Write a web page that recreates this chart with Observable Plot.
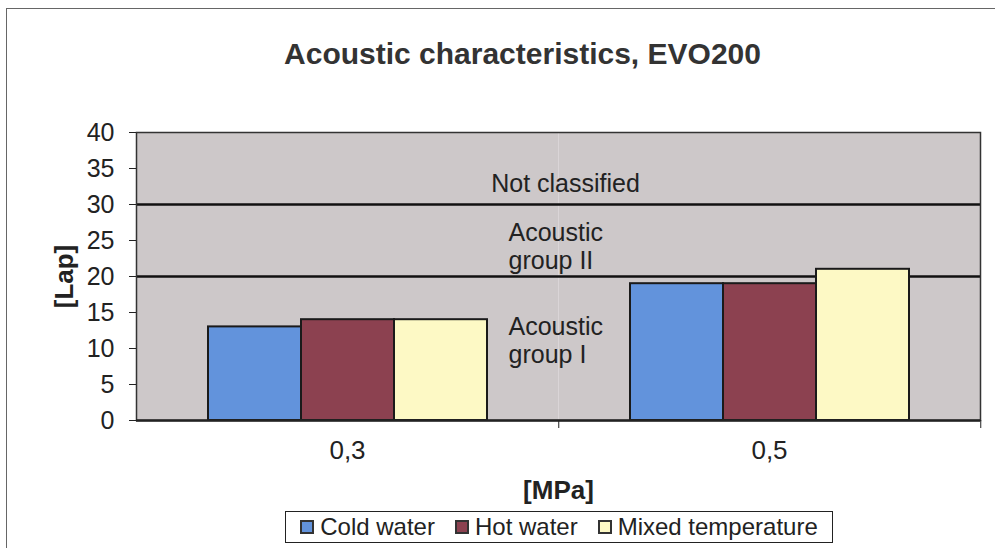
<!DOCTYPE html>
<html>
<head>
<meta charset="utf-8">
<script src="https://cdn.jsdelivr.net/npm/d3@7"></script>
<script src="https://cdn.jsdelivr.net/npm/@observablehq/plot@0.6"></script>
<style>
  html, body { margin: 0; padding: 0; background: #fff; }
  body { width: 995px; height: 550px; position: relative; overflow: hidden;
         font-family: "Liberation Sans", Arial, sans-serif; color: #222; }
  .edge-left { position: absolute; left: 6px; top: 8px; width: 1px; height: 540px; background: #666; }
  .edge-top { position: absolute; left: 6px; top: 8px; width: 989px; height: 1px; background: #666; }
  .title { padding-top: 39px; height: 30px; line-height: 30px; padding-bottom: 31px;
           text-align: center; font-size: 30px; font-weight: bold; color: #333; margin-left: 50px; }
  #chart svg { display: block; }
  #chart [aria-label$="axis label"] text, #chart [aria-label$="axis label"] { font-weight: bold; font-size: 26px; }
  .legend { margin-left: 285px; margin-top: 6px; width: 546px; height: 30px; border: 1px solid #222;
            display: flex; align-items: center; justify-content: center; gap: 20px; font-size: 24px; color: #222; }
  .legend .item { display: flex; align-items: center; gap: 6px; white-space: nowrap; }
  .legend i { display: inline-block; width: 10px; height: 10px; border: 2px solid #333; }
</style>
</head>
<body>
<div class="edge-left"></div>
<div class="edge-top"></div>
<div class="title">Acoustic characteristics, EVO200</div>
<div id="chart"></div>
<div class="legend" id="legend"></div>
<script>
// ---- data ----
const categories = ["0,3", "0,5"];
const series = ["Cold water", "Hot water", "Mixed temperature"];
const coldWater = [13, 19];
const hotWater = [14, 19];
const mixedTemperature = [14, 21];
const seriesColors = ["#6293dc", "#8c4150", "#fdf9c5"];
const yTicks = [0, 5, 10, 15, 20, 25, 30, 35, 40];
const thresholds = [20, 30];
const zoneTitle = ["Not classified"];
const zoneTitleY = [32.9];
const zoneLabels = ["Acoustic\ngroup II", "Acoustic\ngroup I"];
const zoneLabelY = [24.2, 11.2];

// ---- tables built from arrays ----
const values = [coldWater, hotWater, mixedTemperature];
const rows = [];
categories.forEach((c, i) => series.forEach((s, j) => rows.push({pressure: c, series: s, value: values[j][i]})));
const titleRows = zoneTitle.map((t, i) => ({label: t, y: zoneTitleY[i]}));
const labelRows = zoneLabels.map((t, i) => ({label: t, y: zoneLabelY[i]}));

const W = 995, ML = 135, MR = 15;
const facetHalf = (W - ML - MR) / categories.length / 2;
const font = '"Liberation Sans", Arial, sans-serif';

const chart = Plot.plot({
  width: W, height: 405,
  marginLeft: ML, marginRight: MR, marginTop: 32, marginBottom: 85,
  style: {fontFamily: font, fontSize: "24px", color: "#222", background: "transparent", overflow: "visible"},
  fx: {domain: categories, padding: 0, label: "[MPa]"},
  x: {domain: series, paddingInner: 0, paddingOuter: 0.75, axis: null},
  y: {domain: [0, 40], label: "[Lap]"},
  color: {domain: series, range: seriesColors},
  marks: [
    Plot.frame({fill: "#cdc8c9"}),
    Plot.ruleY(thresholds, {stroke: "#111", strokeWidth: 2.5}),
    Plot.barY(rows, {fx: "pressure", x: "series", y: "value", fill: "series", stroke: "#1a1a1a", strokeWidth: 2}),
    Plot.text(titleRows, {fx: () => categories[0], y: "y", text: "label", frameAnchor: "right",
      textAnchor: "middle", dx: 7, fontSize: 25, fill: "#222"}),
    Plot.text(labelRows, {fx: () => categories[0], y: "y", text: "label", frameAnchor: "right",
      textAnchor: "start", dx: -50, fontSize: 25, lineHeight: 1.12, fill: "#222"}),
    Plot.frame({stroke: "#333", strokeWidth: 1.5, facet: "super"}),
    Plot.ruleY([0], {stroke: "#222", strokeWidth: 2.5}),
    Plot.axisY({ticks: yTicks, tickSize: 7, tickPadding: 15, fontSize: 25, label: "[Lap]",
      labelAnchor: "center", labelOffset: 82, labelArrow: "none"}),
    Plot.axisFx({anchor: "bottom", tickSize: 0, tickPadding: 20, fontSize: 26, label: "[MPa]",
      labelAnchor: "center", labelOffset: 78}),
    Plot.axisFx({anchor: "bottom", tickSize: 8, tickFormat: () => "", dx: facetHalf, label: null})
  ]
});
document.getElementById("chart").appendChild(chart);

// ---- legend ----
const legend = document.getElementById("legend");
series.forEach((s, i) => {
  const item = document.createElement("span");
  item.className = "item";
  const sw = document.createElement("i");
  sw.style.background = seriesColors[i];
  item.appendChild(sw);
  item.appendChild(document.createTextNode(s));
  legend.appendChild(item);
});
</script>
</body>
</html>
